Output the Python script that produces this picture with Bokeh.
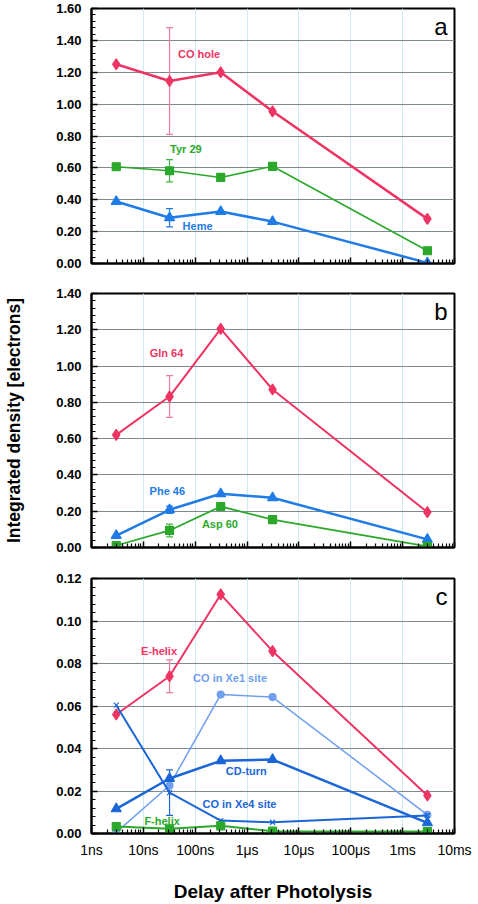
from bokeh.plotting import figure
from bokeh.models import (Range1d, FixedTicker, NumeralTickFormatter,
                          Label, Whisker, ColumnDataSource, TeeHead)
from bokeh.layouts import column
from bokeh.embed import file_html
from bokeh.resources import INLINE

# ---------------- data ----------------
delay_ns = [3, 32, 310, 3100, 3000000]
x_ticks = [1, 10, 100, 1000, 10000, 100000, 1000000, 10000000]
x_tick_labels = ["1ns", "10ns", "100ns", "1\u03bcs", "10\u03bcs", "100\u03bcs", "1ms", "10ms"]

y_ticks_a = [0.0, 0.2, 0.4, 0.6, 0.8, 1.0, 1.2, 1.4, 1.6]
y_ticks_b = [0.0, 0.2, 0.4, 0.6, 0.8, 1.0, 1.2, 1.4]
y_ticks_c = [0.0, 0.02, 0.04, 0.06, 0.08, 0.10, 0.12]

# panel a
co_hole = [1.25, 1.145, 1.20, 0.955, 0.28]
co_hole_err = [0, 0.335, 0, 0, 0]
tyr29 = [0.607, 0.582, 0.54, 0.61, 0.08]
tyr29_err = [0, 0.07, 0, 0, 0]
heme = [0.389, 0.287, 0.326, 0.263, 0.004]
heme_err = [0, 0.057, 0, 0, 0]

# panel b
gln64 = [0.621, 0.832, 1.205, 0.871, 0.195]
gln64_err = [0, 0.115, 0, 0, 0]
phe46 = [0.066, 0.208, 0.296, 0.274, 0.045]
phe46_err = [0, 0.02, 0, 0, 0]
asp60 = [0.011, 0.094, 0.226, 0.154, 0.006]
asp60_err = [0, 0.035, 0, 0, 0]

# panel c
e_helix = [0.056, 0.074, 0.1125, 0.0858, 0.0179]
e_helix_err = [0, 0.0077, 0, 0, 0]
xe1_site = [0.0005, 0.0226, 0.0654, 0.0642, 0.0088]
cd_turn = [0.0116, 0.0259, 0.0342, 0.0348, 0.005]
xe4_site = [0.0604, 0.0192, 0.0061, 0.0053, 0.0085]
xe4_site_err = [0, 0.0107, 0, 0, 0]
f_helix = [0.0033, 0.0022, 0.0036, 0.0011, 0.0009]

# series label annotations: (text, x [ns], y)
labels_a = [("CO hole", 119, 1.315), ("Tyr 29", 66, 0.72), ("Heme", 111, 0.238)]
labels_b = [("Gln 64", 28, 1.073), ("Phe 46", 29, 0.309), ("Asp 60", 300, 0.131)]
labels_c = [("E-helix", 20, 0.0858), ("CO in Xe1 site", 470, 0.0731), ("CD-turn", 966, 0.0293),
            ("CO in Xe4 site", 714, 0.014), ("F-helix", 23, 0.0061)]

RED = "#EE3463"
GREEN = "#2BA82B"
BLUE = "#1F7BE6"
DBLUE = "#1A66D6"
LBLUE = "#6F9FEC"

FONT = "Liberation Sans"


def make_panel(y_ticks, series, labels, letter, frame_h, top, bottom, show_x):
    ymax = y_ticks[-1]
    step = y_ticks[1] - y_ticks[0]
    p = figure(x_axis_type="log", x_range=Range1d(1, 1e7), y_range=Range1d(0, ymax),
               frame_width=363, frame_height=frame_h, output_backend="svg",
               toolbar_location=None, min_border_left=91, min_border_right=22,
               min_border_top=top, min_border_bottom=bottom)
    p.background_fill_color = "white"
    p.outline_line_color = "black"
    p.outline_line_width = 2
    p.outline_line_alpha = 1

    minor_x = [m * 10 ** k for k in range(7) for m in range(2, 10)]
    p.xaxis.ticker = FixedTicker(ticks=x_ticks, minor_ticks=minor_x)
    minor_y = [t + k * step / 5 for t in y_ticks[:-1] for k in range(1, 5)]
    p.yaxis.ticker = FixedTicker(ticks=y_ticks, minor_ticks=minor_y)
    p.yaxis.formatter = NumeralTickFormatter(format="0.00")

    for ax in (p.xaxis[0], p.yaxis[0]):
        ax.axis_line_color = "black"
        ax.axis_line_width = 2
        ax.major_tick_in = 6
        ax.major_tick_out = 0
        ax.minor_tick_in = 4
        ax.minor_tick_out = 0
        ax.major_tick_line_color = "black"
        ax.minor_tick_line_color = "black"
        ax.major_tick_line_width = 1.5
        ax.minor_tick_line_width = 1.2

    p.yaxis.major_label_text_font = FONT
    p.yaxis.major_label_text_font_style = "bold"
    p.yaxis.major_label_text_font_size = "13px"
    p.yaxis.major_label_text_color = "black"
    p.yaxis.major_label_standoff = 10

    p.xaxis.major_label_overrides = {t: s for t, s in zip(x_ticks, x_tick_labels)}
    p.xaxis.major_label_text_font = FONT
    if show_x:
        p.xaxis.major_label_text_font_size = "14px"
        p.xaxis.major_label_text_color = "black"
        p.xaxis.major_label_standoff = 8
    else:
        p.xaxis.major_label_text_font_size = "2px"
        p.xaxis.major_label_text_alpha = 0
        p.xaxis.major_label_standoff = 0

    p.xgrid.grid_line_color = "#CDEBF2"
    p.xgrid.grid_line_width = 1
    p.ygrid.grid_line_color = "#7F8A90"
    p.ygrid.grid_line_width = 1.2

    for vals, errs, color, errcolor, marker, msize, lw in series:
        p.line(delay_ns, vals, line_color=color, line_width=lw)
        p.scatter(delay_ns, vals, marker=marker, size=msize, fill_color=color,
                  line_color=color, line_width=1.2)
        if errs is not None:
            xs = [x for x, e in zip(delay_ns, errs) if e > 0]
            lo = [v - e for v, e in zip(vals, errs) if e > 0]
            hi = [v + e for v, e in zip(vals, errs) if e > 0]
            src = ColumnDataSource(dict(x=xs, lower=lo, upper=hi))
            w = Whisker(source=src, base="x", lower="lower", upper="upper", dimension="height",
                        line_color=errcolor, line_width=1.2,
                        upper_head=TeeHead(size=7, line_color=errcolor, line_width=1.2),
                        lower_head=TeeHead(size=7, line_color=errcolor, line_width=1.2))
            p.add_layout(w)

    for (txt, x, y), col in labels:
        p.add_layout(Label(x=x, y=y, text=txt, text_color=col, text_font=FONT,
                           text_font_style="bold", text_font_size="11px",
                           text_align="center", text_baseline="middle"))

    p.add_layout(Label(x=x_ticks[-1], y=ymax, text=letter, x_offset=-7, y_offset=-18,
                       text_align="right", text_baseline="alphabetic",
                       text_font=FONT, text_font_size="24px", text_color="black"))
    return p


pa = make_panel(y_ticks_a, [
    (co_hole, co_hole_err, RED, "#F27A9A", "diamond", 11, 2.5),
    (tyr29, tyr29_err, GREEN, "#45B845", "square", 8, 1.6),
    (heme, heme_err, BLUE, BLUE, "triangle", 10, 2.5),
], list(zip(labels_a, [RED, GREEN, BLUE])), "a", 255, 8, 15, False)

pb = make_panel(y_ticks_b, [
    (gln64, gln64_err, RED, "#F27A9A", "diamond", 11, 2),
    (phe46, phe46_err, BLUE, BLUE, "triangle", 10, 2.5),
    (asp60, asp60_err, GREEN, "#45B845", "square", 8, 1.8),
], list(zip(labels_b, [RED, BLUE, GREEN])), "b", 254, 15, 15, False)
pb.yaxis.axis_label = "Integrated density [electrons]"
pb.yaxis.axis_label_text_font = FONT
pb.yaxis.axis_label_text_font_style = "bold"
pb.yaxis.axis_label_text_font_size = "17.5px"
pb.yaxis.axis_label_text_color = "black"
pb.yaxis.axis_label_standoff = 29

pc = make_panel(y_ticks_c, [
    (e_helix, e_helix_err, RED, "#F27A9A", "diamond", 11, 2),
    (xe1_site, None, LBLUE, LBLUE, "circle", 7, 1.5),
    (cd_turn, None, DBLUE, DBLUE, "triangle", 10, 2.5),
    (xe4_site, xe4_site_err, DBLUE, DBLUE, "x", 7, 2),
    (f_helix, None, GREEN, GREEN, "square", 8, 2),
], list(zip(labels_c, [RED, LBLUE, DBLUE, DBLUE, GREEN])), "c", 255, 16, 68, True)
pc.xaxis.axis_label = "Delay after Photolysis"
pc.xaxis.axis_label_text_font = FONT
pc.xaxis.axis_label_text_font_style = "bold"
pc.xaxis.axis_label_text_font_size = "19px"
pc.xaxis.axis_label_text_color = "black"
pc.xaxis.axis_label_standoff = 20

layout = column(pa, pb, pc)
open("out.html", "w").write(file_html(layout, INLINE))
